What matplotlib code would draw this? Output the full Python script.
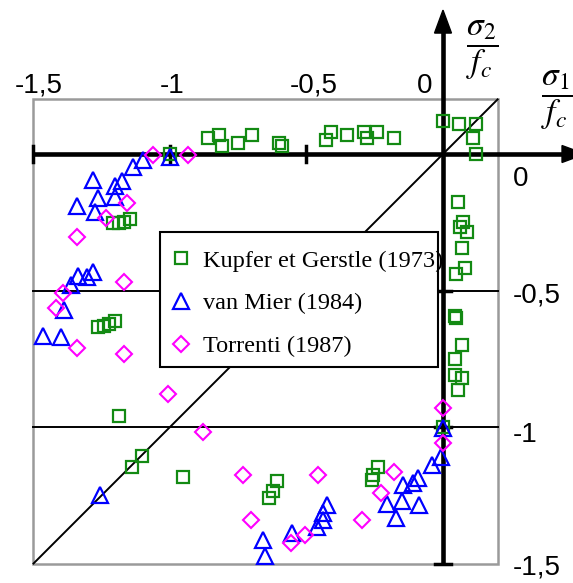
import matplotlib
matplotlib.use("Agg")
import matplotlib.pyplot as plt
from matplotlib.patches import Rectangle, Polygon

# ---------------- data ----------------
kupfer_x = [-0.86, -0.82, -0.81, -0.75, -0.70, -0.60, -0.59, -0.43, -0.41, -0.35,
            -0.29, -0.28, -0.24, -0.18, 0.00, 0.06, 0.12, 0.11, 0.12, -1.00,
            0.055, 0.073, 0.062, 0.088, 0.070, 0.081, 0.048, 0.044, 0.048, 0.070,
            0.044, 0.044, 0.070, 0.055, 0.00,
            -1.209, -1.187, -1.168, -1.147,
            -1.264, -1.242, -1.223, -1.201, -1.187,
            -1.103, -1.139, -0.952,
            -0.608, -0.623, -0.637,
            -0.238, -0.256, -0.260]
kupfer_y = [0.06, 0.07, 0.03, 0.04, 0.07, 0.04, 0.03, 0.05, 0.08, 0.07,
            0.08, 0.06, 0.08, 0.06, 0.12, 0.11, 0.11, 0.06, 0.00, 0.00,
            -0.176, -0.249, -0.267, -0.286, -0.344, -0.418, -0.440, -0.593, -0.600, -0.700,
            -0.751, -0.810, -0.820, -0.864, -1.00,
            -0.253, -0.253, -0.249, -0.238,
            -0.634, -0.630, -0.623, -0.612, -0.960,
            -1.106, -1.147, -1.183,
            -1.198, -1.234, -1.260,
            -1.147, -1.176, -1.194]

vanmier_x = [-1.000, -1.099, -1.136, -1.176, -1.201, -1.282, -1.264, -1.201, -1.341, -1.275,
             -1.337, -1.304, -1.282, -1.363, -1.388, -1.465, -1.399,
             -1.256, -0.659, -0.652, -0.553, -0.462, -0.440, -0.440, -0.425,
             -0.205, -0.172, -0.150, -0.147, -0.110, -0.092, -0.088, -0.040, -0.007, 0.000]
vanmier_y = [-0.010, -0.022, -0.048, -0.099, -0.117, -0.095, -0.161, -0.158, -0.190, -0.212,
             -0.447, -0.451, -0.432, -0.480, -0.571, -0.667, -0.670,
             -1.249, -1.414, -1.473, -1.388, -1.366, -1.341, -1.315, -1.286,
             -1.282, -1.333, -1.271, -1.212, -1.205, -1.187, -1.286, -1.139, -1.110, -1.004]

torrenti_x = [-1.062, -0.934, -1.158, -1.234, -1.341, -1.168, -1.392, -1.418, -1.341, -1.168,
              -1.007, -0.879, -0.733, -0.703, -0.557, -0.505, -0.458, -0.297, -0.227, -0.179,
              0.000, 0.000]
torrenti_y = [-0.004, -0.004, -0.179, -0.234, -0.304, -0.469, -0.509, -0.564, -0.711, -0.733,
              -0.879, -1.018, -1.176, -1.341, -1.425, -1.396, -1.176, -1.341, -1.242, -1.165,
              -0.930, -1.059]

series_labels = ["Kupfer et Gerstle (1973)", "van Mier (1984)", "Torrenti (1987)"]
x_tick_labels = ["-1,5", "-1", "-0,5", "0"]
y_tick_labels = ["0", "-0,5", "-1", "-1,5"]

# ---------------- figure ----------------
plt.rcParams['mathtext.fontset'] = 'stix'
fig = plt.figure(figsize=(5.73, 5.83), dpi=100)
ax = fig.add_axes([0, 0, 1, 1])
ax.set_xlim(-1.6227, 0.4762)
ax.set_ylim(-1.5714, 0.5641)
ax.axis('off')

# gray frame
ax.add_patch(Rectangle((-1.5, -1.5), 1.7, 1.7, fill=False, edgecolor='#9a9a9a', lw=1.8, zorder=1))
# thin lines
for yv in (-0.5, -1.0):
    ax.plot([-1.5, 0.2], [yv, yv], color='black', lw=1.4, zorder=2)
ax.plot([-1.5, 0.2], [-1.5, 0.2], color='black', lw=1.4, zorder=2)

# main axes with arrows
ax.plot([-1.5, 0.44], [0, 0], color='black', lw=3.3, zorder=3, solid_capstyle='butt')
ax.plot([0, 0], [-1.5, 0.45], color='black', lw=3.3, zorder=3, solid_capstyle='butt')
ax.add_patch(Polygon([[0.436, 0.031], [0.436, -0.031], [0.52, 0]], closed=True,
                     facecolor='black', edgecolor='black', zorder=3))
ax.add_patch(Polygon([[-0.031, 0.443], [0.031, 0.443], [0, 0.527]], closed=True,
                     facecolor='black', edgecolor='black', zorder=3))
# ticks
tk = 0.028
for xv in (-1.5, -1.0, -0.5):
    ax.plot([xv, xv], [-tk, tk], color='black', lw=2.5, zorder=3)
for yv in (-0.5, -1.0, -1.5):
    ax.plot([-tk, tk], [yv, yv], color='black', lw=2.5, zorder=3)

# data
ms_kw = dict(linestyle='none', markerfacecolor='none', zorder=4)
h1, = ax.plot(kupfer_x, kupfer_y, marker='s', markersize=9.0, markeredgewidth=1.6,
              markeredgecolor='#138a13', label=series_labels[0], **ms_kw)
h2, = ax.plot(vanmier_x, vanmier_y, marker='^', markersize=11, markeredgewidth=1.6,
              markeredgecolor='#0000ff', label=series_labels[1], **ms_kw)
h3, = ax.plot(torrenti_x, torrenti_y, marker='D', markersize=8.2, markeredgewidth=1.5,
              markeredgecolor='#ff00ff', label=series_labels[2], **ms_kw)

# legend box
ax.add_patch(Rectangle((-1.035, -0.780), 1.017, 0.494, facecolor='white',
                       edgecolor='black', lw=1.5, zorder=5))
leg = ax.legend(handles=[h1, h2, h3], loc='upper left', bbox_to_anchor=(0.265, 0.602),
                bbox_transform=ax.transAxes, frameon=False, borderaxespad=0,
                borderpad=0.72, handlelength=1.0, handletextpad=0.38, labelspacing=0.86,
                prop=dict(family='Liberation Serif', size=17.5))
leg.set_zorder(6)

# tick labels
tfont = dict(family='Liberation Sans', size=20)
x_label_pos = [(-1.482, 0.250), (-0.993, 0.250), (-0.474, 0.250), (-0.066, 0.250)]
for (xp, yp), lab in zip(x_label_pos, x_tick_labels):
    ax.text(xp, yp, lab, ha='center', va='center', **tfont)
y_label_pos = [(0.256, -0.092), (0.256, -0.520), (0.256, -1.030), (0.256, -1.515)]
for (xp, yp), lab in zip(y_label_pos, y_tick_labels):
    ax.text(xp, yp, lab, ha='left', va='center', **tfont)

# axis titles
ax.text(0.143, 0.381, r'$\dfrac{\sigma_2}{f_c}$', ha='center', va='center', fontsize=24)
ax.text(0.418, 0.198, r'$\dfrac{\sigma_1}{f_c}$', ha='center', va='center', fontsize=24)

fig.savefig('out.png', dpi=100)
